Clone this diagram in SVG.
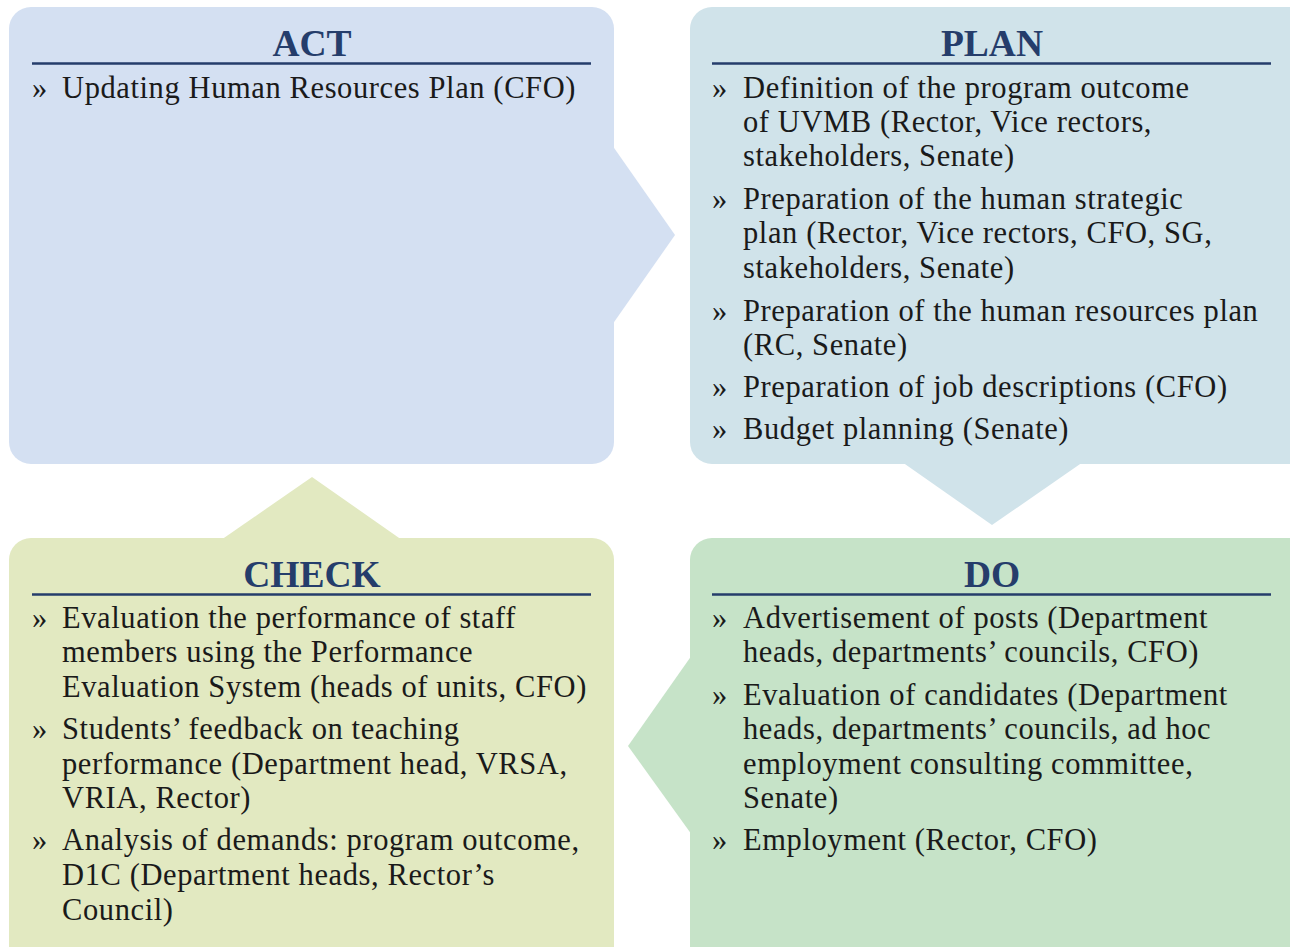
<svg xmlns="http://www.w3.org/2000/svg" width="1290" height="947" viewBox="0 0 1290 947">
<style>
.h{font-family:"Liberation Serif",serif;font-weight:bold;font-size:37.5px;fill:#253d6b;text-anchor:middle}
.t{font-family:"Liberation Serif",serif;font-size:30.5px;letter-spacing:0.6px;fill:#1a1a1a}
.rule{stroke:#253d6b;stroke-width:2.5}
</style>
<rect width="1290" height="947" fill="#fff"/>
<g id="connectors">
<polygon points="612,145 675,235 612,325" fill="#d4e0f2"/>
<polygon points="902,462 1083,462 992,525" fill="#d0e3ea"/>
<polygon points="692,655 628,746 692,835" fill="#c6e3c8"/>
<polygon points="221,540 312,477 402,540" fill="#e2e9c1"/>
</g>
<g id="act">
<rect x="9" y="7" width="605" height="457" rx="22" fill="#d4e0f2"/>
<text class="h" x="312" y="56">ACT</text>
<line class="rule" x1="32" y1="63.500" x2="591" y2="63.500"/>
<text class="t" x="32" y="98">»</text>
<text class="t" x="62" y="98">Updating Human Resources Plan (CFO)</text>
</g>
<g id="plan">
<rect x="690" y="7" width="622" height="457" rx="22" fill="#d0e3ea"/>
<text class="h" x="992" y="56">PLAN</text>
<line class="rule" x1="712" y1="63.500" x2="1271" y2="63.500"/>
<text class="t" x="712" y="98">»</text>
<text class="t" x="743" y="98">Definition of the program outcome</text>
<text class="t" x="743" y="132">of UVMB (Rector, Vice rectors,</text>
<text class="t" x="743" y="166">stakeholders, Senate)</text>
<text class="t" x="712" y="209">»</text>
<text class="t" x="743" y="209">Preparation of the human strategic</text>
<text class="t" x="743" y="243">plan (Rector, Vice rectors, CFO, SG,</text>
<text class="t" x="743" y="278">stakeholders, Senate)</text>
<text class="t" x="712" y="321">»</text>
<text class="t" x="743" y="321">Preparation of the human resources plan</text>
<text class="t" x="743" y="355">(RC, Senate)</text>
<text class="t" x="712" y="397">»</text>
<text class="t" x="743" y="397">Preparation of job descriptions (CFO)</text>
<text class="t" x="712" y="439">»</text>
<text class="t" x="743" y="439">Budget planning (Senate)</text>
</g>
<g id="check">
<rect x="9" y="538" width="605" height="430" rx="22" fill="#e2e9c1"/>
<text class="h" x="312" y="587">CHECK</text>
<line class="rule" x1="32" y1="594.500" x2="591" y2="594.500"/>
<text class="t" x="32" y="628">»</text>
<text class="t" x="62" y="628">Evaluation the performance of staff</text>
<text class="t" x="62" y="662">members using the Performance</text>
<text class="t" x="62" y="697">Evaluation System (heads of units, CFO)</text>
<text class="t" x="32" y="739">»</text>
<text class="t" x="62" y="739">Students’ feedback on teaching</text>
<text class="t" x="62" y="774">performance (Department head, VRSA,</text>
<text class="t" x="62" y="808">VRIA, Rector)</text>
<text class="t" x="32" y="850">»</text>
<text class="t" x="62" y="850">Analysis of demands: program outcome,</text>
<text class="t" x="62" y="885">D1C (Department heads, Rector’s</text>
<text class="t" x="62" y="920">Council)</text>
</g>
<g id="do">
<rect x="690" y="538" width="622" height="430" rx="22" fill="#c6e3c8"/>
<text class="h" x="992" y="587">DO</text>
<line class="rule" x1="712" y1="594.500" x2="1271" y2="594.500"/>
<text class="t" x="712" y="628">»</text>
<text class="t" x="743" y="628">Advertisement of posts (Department</text>
<text class="t" x="743" y="662">heads, departments’ councils, CFO)</text>
<text class="t" x="712" y="705">»</text>
<text class="t" x="743" y="705">Evaluation of candidates (Department</text>
<text class="t" x="743" y="739">heads, departments’ councils, ad hoc</text>
<text class="t" x="743" y="774">employment consulting committee,</text>
<text class="t" x="743" y="808">Senate)</text>
<text class="t" x="712" y="850">»</text>
<text class="t" x="743" y="850">Employment (Rector, CFO)</text>
</g>
</svg>
